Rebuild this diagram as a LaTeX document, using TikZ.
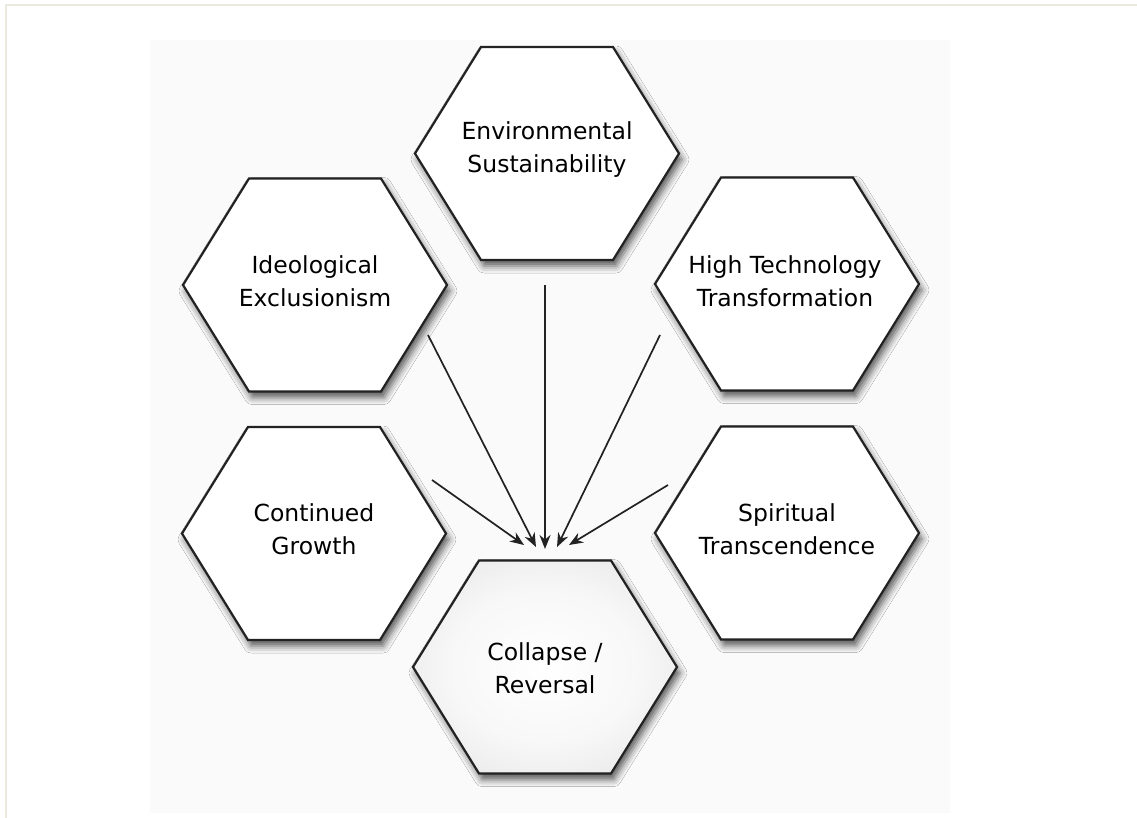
\documentclass[tikz,border=0pt]{standalone}
\usepackage{fontspec}
\setmainfont{DejaVu Sans}
\usetikzlibrary{arrows.meta,shadows.blur}

\definecolor{framebeige}{HTML}{ECE9DF}
\definecolor{panelgray}{HTML}{FAFAFA}
\definecolor{inkgray}{HTML}{222222}

% soft grey rim for the highlighted tile
\pgfdeclareradialshading{softglow}{\pgfpoint{0bp}{0bp}}{%
  color(0bp)=(white); color(18bp)=(white!97!black);
  color(50bp)=(black!17); color(75bp)=(black!17)}

\newcommand\hexoutline{(-132,0) -- (-66,-106.5) -- (66,-106.5) -- (132,0)
  -- (66,106.5) -- (-66,106.5) -- cycle}

\tikzset{
  hexbox/.style={draw=inkgray, line width=2.2pt, line join=miter, fill=white,
    blur shadow={shadow xshift=3pt, shadow yshift=-6pt,
      shadow blur radius=7pt, shadow opacity=65}},
  hexfocus/.style={hexbox, shading=softglow},
  hextext/.style={align=center, text=black,
    font=\fontsize{23.5}{33}\selectfont},
  pointer/.style={draw=inkgray, line width=1.7pt,
    -{Stealth[length=14pt,width=11pt]}}
}

\begin{document}
\begin{tikzpicture}[x=1pt,y=-1pt]
  \useasboundingbox (0,0) rectangle (1137,818);
  \fill[white] (0,0) rectangle (1137,818);
  % page frame and panel
  \draw[framebeige, line width=2pt] (6,820) -- (6,5) -- (1140,5);
  \fill[panelgray] (150,40) rectangle (950,813);

  % hexagon tiles
  \path[hexbox, shift={(547,153.5)}] \hexoutline;
  \path[hexbox, shift={(315,285)}]   \hexoutline;
  \path[hexbox, shift={(787,284)}]   \hexoutline;
  \path[hexbox, shift={(314,533.5)}] \hexoutline;
  \path[hexbox, shift={(787,533)}]   \hexoutline;
  \path[hexfocus, shift={(545,667)}] \hexoutline;

  % labels
  \node[hextext] (env)  at (547,150) {Environmental\\Sustainability};
  \node[hextext] (ideo) at (315,281) {Ideological\\Exclusionism};
  \node[hextext] (tech) at (785,281) {High Technology\\Transformation};
  \node[hextext] (grow) at (314,529) {Continued\\Growth};
  \node[hextext] (spir) at (787,529) {Spiritual\\Transcendence};
  \node[hextext] (coll) at (545,668) {Collapse /\\Reversal};

  % arrow anchors
  \coordinate (sGrow) at (432,480);
  \coordinate (sIdeo) at (428,335);
  \coordinate (sEnv)  at (545,285);
  \coordinate (sTech) at (660,335);
  \coordinate (sSpir) at (668,485);
  \coordinate (tGrow) at (524,545);
  \coordinate (tIdeo) at (536,547);
  \coordinate (tEnv)  at (545,549);
  \coordinate (tTech) at (557,547);
  \coordinate (tSpir) at (569,545);

  % everything converges on the collapse tile
  \draw[pointer] (sGrow) -- (tGrow);
  \draw[pointer] (sIdeo) -- (tIdeo);
  \draw[pointer] (sEnv)  -- (tEnv);
  \draw[pointer] (sTech) -- (tTech);
  \draw[pointer] (sSpir) -- (tSpir);
\end{tikzpicture}
\end{document}
